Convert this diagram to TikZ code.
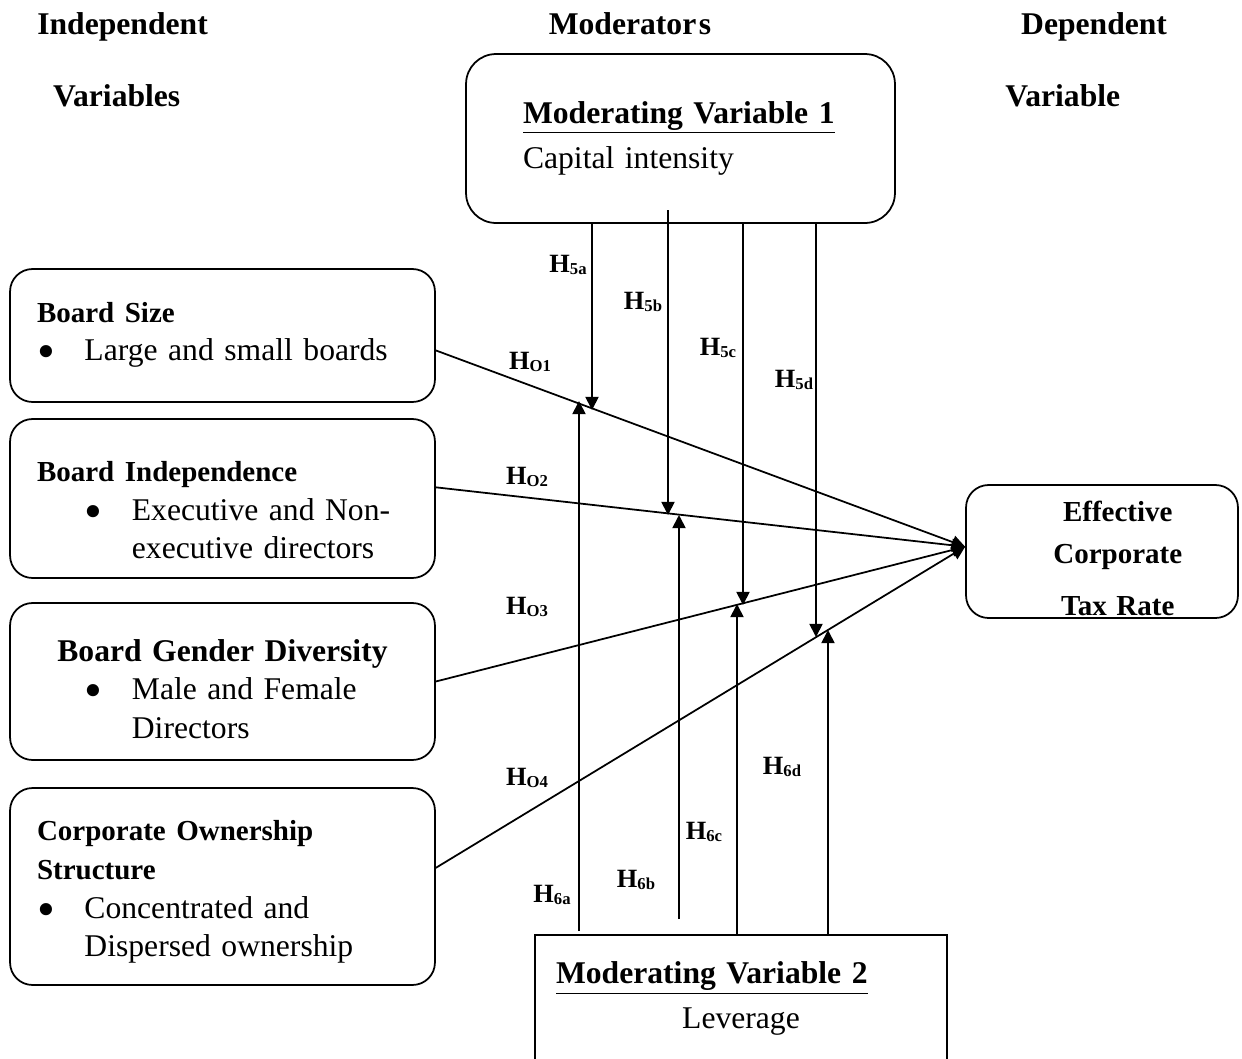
\documentclass[tikz,border=0pt]{standalone}
\usepackage{fontspec}
\setmainfont{Liberation Serif}
\usetikzlibrary{arrows.meta}
\newcommand{\bodyfont}{\fontsize{18}{22}\selectfont}
\newcommand{\headfont}{\fontsize{16.5}{22}\selectfont\bfseries}
\newcommand{\bul}{\makebox[27pt][l]{\raisebox{-4.5pt}{\fontsize{29}{22}\selectfont\textbullet}}}
\newcommand{\hyp}[1]{\textbf{\fontsize{15}{18}\selectfont H\raisebox{-1pt}{\fontsize{9.5}{10}\selectfont #1}}}

\begin{document}
\begin{tikzpicture}
[x=0.02cm,y=-0.02cm
,ivbox/.style={draw,line width=1pt,rounded corners=0.45cm,minimum width=8.5cm,text width=7.42cm,inner xsep=0.54cm,align=left,font=\bodyfont}
,modbox/.style={draw,line width=1pt,align=left,font=\bodyfont}
,hl/.style={align=left,font=\bodyfont\bfseries}
,ha/.style={line width=1pt,-{Triangle[length=7.5pt,width=7.5pt]}}
,hlab/.style={inner sep=1pt}
]
\clip (0,0) rectangle (1242,1059);
% column headings
\node[hl,anchor=west,inner sep=0pt] (indep) at (37,60) {Independent\\[19pt]\hspace*{9pt}Variables};
\node[hl] (moder) at (630,24) {{\spaceskip=1.5pt Moderator s}};
\node[hl,anchor=west,inner sep=0pt] (dep) at (1005,60) {\hspace*{9pt}Dependent\\[19pt]Variable};
% independent variables
\node[ivbox,minimum height=2.66cm] (bsize) at (222.5,335.5)
  {{\headfont Board Size}\\
   \bul Large and small boards};
\node[ivbox,minimum height=3.18cm] (bindep) at (222.5,498.5)
  {\rule{0pt}{25pt}{\headfont Board Independence}\\
   \hspace*{27pt}\bul Executive and Non-\\
   \hspace*{54pt}executive directors};
\node[ivbox,minimum height=3.14cm] (bgender) at (222.5,681.5)
  {\rule{0pt}{21pt}\makebox[\linewidth]{\bfseries Board Gender Diversity}\\
   \hspace*{27pt}\bul Male and Female\\
   \hspace*{54pt}Directors};
\node[ivbox,minimum height=3.94cm] (ownstruct) at (222.5,886.5)
  {\rule{0pt}{18pt}{\headfont Corporate Ownership\\ Structure}\\
   \bul Concentrated and\\
   \hspace*{27pt}Dispersed ownership};
% moderators
\node[modbox,rounded corners=0.6cm,minimum width=8.58cm,minimum height=3.38cm,text width=6.3cm,inner xsep=1.14cm] (modone) at (680.5,138.5)
  {\textbf{\underline{Moderating Variable 1}}\\[4pt]
   Capital intensity};
\node[modbox,minimum width=8.24cm,minimum height=2.54cm,text width=7.4cm,inner xsep=0.42cm] (modtwo) at (741,998.5)
  {\textbf{\underline{Moderating Variable 2}}\\[3.5pt]
   \makebox[\linewidth]{Leverage}};
% dependent variable
\node[modbox,rounded corners=0.45cm,minimum width=5.44cm,minimum height=2.66cm,text width=4.6cm,inner ysep=0pt,align=center,font=\headfont] (etr) at (1102,551.5)
  {\rule{0pt}{19.5pt}\hspace*{18pt}Effective\\[2pt]
   \hspace*{18pt}Corporate\\[7.5pt]
   \hspace*{18pt}Tax Rate};
% direct effects
\draw[ha] (bsize.-4) -- (etr.178);
\draw[ha] (bindep.3) -- (etr.178);
\draw[ha] (bgender.east) -- (etr.178);
\draw[ha] (ownstruct.5) -- (etr.178);
% moderating arrows
\coordinate (t5a) at (592,410);
\coordinate (t5b) at (668,515);
\coordinate (t5c) at (743,605);
\coordinate (t5d) at (816,637);
\coordinate (t6a) at (579,401);
\coordinate (t6b) at (679,515);
\coordinate (t6c) at (737,604);
\coordinate (t6d) at (828,630);
\coordinate (s5b) at (668,210);
\coordinate (s6a) at (579,931);
\coordinate (s6b) at (679,919);
\draw[ha] (t5a |- modone.south) -- (t5a);
\draw[ha] (s5b) -- (t5b);
\draw[ha] (t5c |- modone.south) -- (t5c);
\draw[ha] (t5d |- modone.south) -- (t5d);
\draw[ha] (s6a) -- (t6a);
\draw[ha] (s6b) -- (t6b);
\draw[ha] (t6c |- modtwo.north) -- (t6c);
\draw[ha] (t6d |- modtwo.north) -- (t6d);
% hypothesis labels
\node[hlab] (ho1) at (530,362) {\hyp{O1}};
\node[hlab] (ho2) at (527,477) {\hyp{O2}};
\node[hlab] (ho3) at (527,607) {\hyp{O3}};
\node[hlab] (ho4) at (527,778) {\hyp{O4}};
\node[hlab] (h5a) at (568,265) {\hyp{5a}};
\node[hlab] (h5b) at (643,302) {\hyp{5b}};
\node[hlab] (h5c) at (718,348) {\hyp{5c}};
\node[hlab] (h5d) at (794,380) {\hyp{5d}};
\node[hlab] (h6a) at (552,895) {\hyp{6a}};
\node[hlab] (h6b) at (636,880) {\hyp{6b}};
\node[hlab] (h6c) at (704,832) {\hyp{6c}};
\node[hlab] (h6d) at (782,767) {\hyp{6d}};
\end{tikzpicture}
\end{document}
